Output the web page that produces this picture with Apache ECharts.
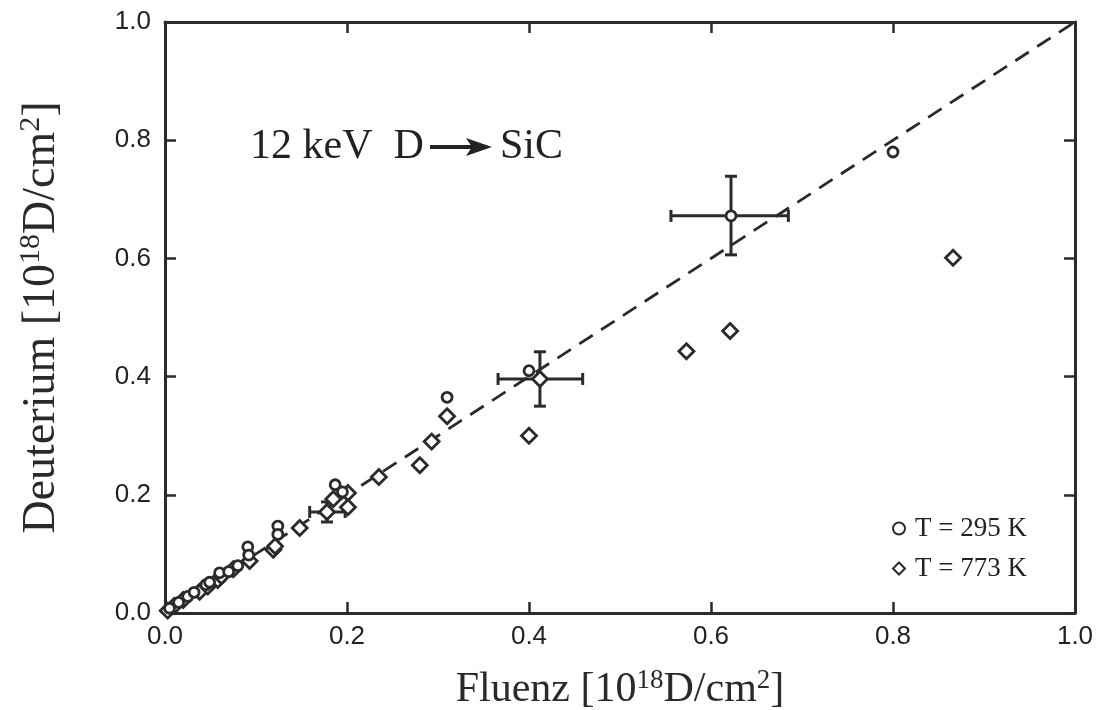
<!DOCTYPE html>
<html>
<head>
<meta charset="utf-8">
<script src="https://cdn.jsdelivr.net/npm/echarts@6/dist/echarts.min.js"></script>
<style>
html,body{margin:0;padding:0;background:#fff;}
#chart{width:1106px;height:710px;}
</style>
</head>
<body>
<div id="chart"></div>
<script>
// ---- data ----
var xTicks = [0.0, 0.2, 0.4, 0.6, 0.8, 1.0];
var yTicks = [0.0, 0.2, 0.4, 0.6, 0.8, 1.0];
var series295Name = 'T = 295 K';
var series773Name = 'T = 773 K';
var t295 = [
  [0.005,0.008],[0.015,0.018],[0.025,0.028],[0.032,0.035],[0.045,0.048],[0.049,0.052],
  [0.060,0.068],[0.070,0.070],[0.080,0.080],[0.091,0.112],[0.092,0.098],[0.124,0.147],
  [0.124,0.133],[0.187,0.217],[0.195,0.205],[0.310,0.365],[0.400,0.410],[0.622,0.672],
  [0.800,0.780]
];
var t773 = [
  [0.003,0.004],[0.010,0.012],[0.020,0.022],[0.038,0.036],[0.047,0.045],[0.058,0.056],
  [0.062,0.062],[0.075,0.074],[0.093,0.088],[0.119,0.107],[0.121,0.113],[0.148,0.144],
  [0.178,0.171],[0.185,0.193],[0.201,0.203],[0.201,0.179],[0.235,0.230],[0.280,0.250],
  [0.293,0.290],[0.310,0.333],[0.400,0.300],[0.412,0.396],[0.573,0.443],[0.621,0.477],
  [0.866,0.601]
];
// [x, y, xLow, xHigh, yLow, yHigh]
var errorBars = [
  [0.178,0.171,0.159,0.198,0.154,0.188],
  [0.412,0.396,0.366,0.459,0.350,0.442],
  [0.622,0.672,0.556,0.685,0.606,0.739]
];
var idealLine = [[0,0],[1,1]];
var annotationLeft = '12 keV  D';
var annotationRight = 'SiC';

// ---- chart ----
var ink = '#2b2b2b';
var serif = '"Liberation Serif", "DejaVu Serif", serif';
var sans = '"Liberation Sans", Arial, sans-serif';
var chart = echarts.init(document.getElementById('chart'));

function axisCommon(showLabel) {
  return {
    type: 'value', min: 0, max: 1, interval: 0.2,
    axisLine: {show: true, onZero: false, lineStyle: {color: ink, width: 3}},
    axisTick: {show: true, inside: true, length: 11, lineStyle: {color: ink, width: 2.5}},
    splitLine: {show: false},
    axisLabel: {show: showLabel, color: '#222', fontFamily: sans, fontSize: 26,
      formatter: function (v) { return v.toFixed(1); }}
  };
}

var xMain = axisCommon(true);
xMain.position = 'bottom';
xMain.axisLabel.margin = 11;
xMain.name = '{a|Fluenz [10}{s|18}{a|D/cm}{s|2}{a|]}';
xMain.nameLocation = 'middle';
xMain.nameGap = 48;
xMain.nameTextStyle = {rich: {
  a: {fontFamily: serif, fontSize: 42, color: '#2a2a2a', lineHeight: 50, verticalAlign: 'bottom'},
  s: {fontFamily: serif, fontSize: 27, color: '#2a2a2a', lineHeight: 50, verticalAlign: 'bottom', padding: [0,0,17,0]}
}};
var xTop = axisCommon(false); xTop.position = 'top';

var yMain = axisCommon(true);
yMain.position = 'left';
yMain.axisLabel.margin = 14;
yMain.name = '{a|Deuterium [10}{s|18}{a|D/cm}{s|2}{a|]}';
yMain.nameLocation = 'middle';
yMain.nameGap = 100;
yMain.nameRotate = 90;
yMain.nameTextStyle = {rich: {
  a: {fontFamily: serif, fontSize: 46, color: '#2a2a2a', lineHeight: 52, verticalAlign: 'bottom'},
  s: {fontFamily: serif, fontSize: 30, color: '#2a2a2a', lineHeight: 52, verticalAlign: 'bottom', padding: [0,0,19,0]}
}};
var yRight = axisCommon(false); yRight.position = 'right';

function errRender(params, api) {
  var c = api.coord([api.value(0), api.value(1)]);
  var xl = api.coord([api.value(2), api.value(1)]);
  var xh = api.coord([api.value(3), api.value(1)]);
  var yl = api.coord([api.value(0), api.value(4)]);
  var yh = api.coord([api.value(0), api.value(5)]);
  var cap = 6;
  var st = {stroke: ink, lineWidth: 3};
  return {type: 'group', children: [
    {type: 'line', shape: {x1: xl[0], y1: c[1], x2: xh[0], y2: c[1]}, style: st},
    {type: 'line', shape: {x1: c[0], y1: yl[1], x2: c[0], y2: yh[1]}, style: st},
    {type: 'line', shape: {x1: xl[0], y1: c[1]-cap, x2: xl[0], y2: c[1]+cap}, style: st},
    {type: 'line', shape: {x1: xh[0], y1: c[1]-cap, x2: xh[0], y2: c[1]+cap}, style: st},
    {type: 'line', shape: {x1: c[0]-cap, y1: yl[1], x2: c[0]+cap, y2: yl[1]}, style: st},
    {type: 'line', shape: {x1: c[0]-cap, y1: yh[1], x2: c[0]+cap, y2: yh[1]}, style: st}
  ]};
}

var option = {
  backgroundColor: '#fff',
  animation: false,
  grid: {left: 165, right: 31, top: 22, bottom: 97, containLabel: false, outerBoundsMode: 'none'},
  xAxis: [xMain, xTop],
  yAxis: [yMain, yRight],
  legend: {
    orient: 'vertical', left: 887, top: 510,
    itemWidth: 12, itemHeight: 12, itemGap: 13,
    textStyle: {fontFamily: serif, fontSize: 27, color: '#222', padding: [0, 0, 0, 5]},
    data: [series295Name, series773Name]
  },
  graphic: [
    {type: 'text', left: 250, top: 126, style: {text: annotationLeft, font: '42px ' + serif, fill: '#222'}},
    {type: 'text', left: 500, top: 126, style: {text: annotationRight, font: '42px ' + serif, fill: '#222'}},
    {type: 'line', shape: {x1: 430, y1: 147, x2: 474, y2: 147}, style: {stroke: '#222', lineWidth: 4}},
    {type: 'polygon', shape: {points: [[466, 138], [492, 147], [466, 156], [472, 147]]}, style: {fill: '#222'}}
  ],
  series: [
    {type: 'line', data: idealLine, showSymbol: false, silent: true,
      lineStyle: {color: ink, width: 2.8, type: [16, 10]}, z: 1},
    {type: 'custom', data: errorBars, renderItem: errRender, z: 2, silent: true,
      encode: {x: [0, 2, 3], y: [1, 4, 5]}},
    {name: series773Name, type: 'scatter', data: t773, symbol: 'diamond', symbolSize: 15,
      itemStyle: {color: '#fff', borderColor: ink, borderWidth: 2.8, opacity: 1}, z: 3},
    {name: series295Name, type: 'scatter', data: t295, symbol: 'circle', symbolSize: 10,
      itemStyle: {color: '#fff', borderColor: ink, borderWidth: 2.8, opacity: 1}, z: 4}
  ]
};
chart.setOption(option);
</script>
</body>
</html>
